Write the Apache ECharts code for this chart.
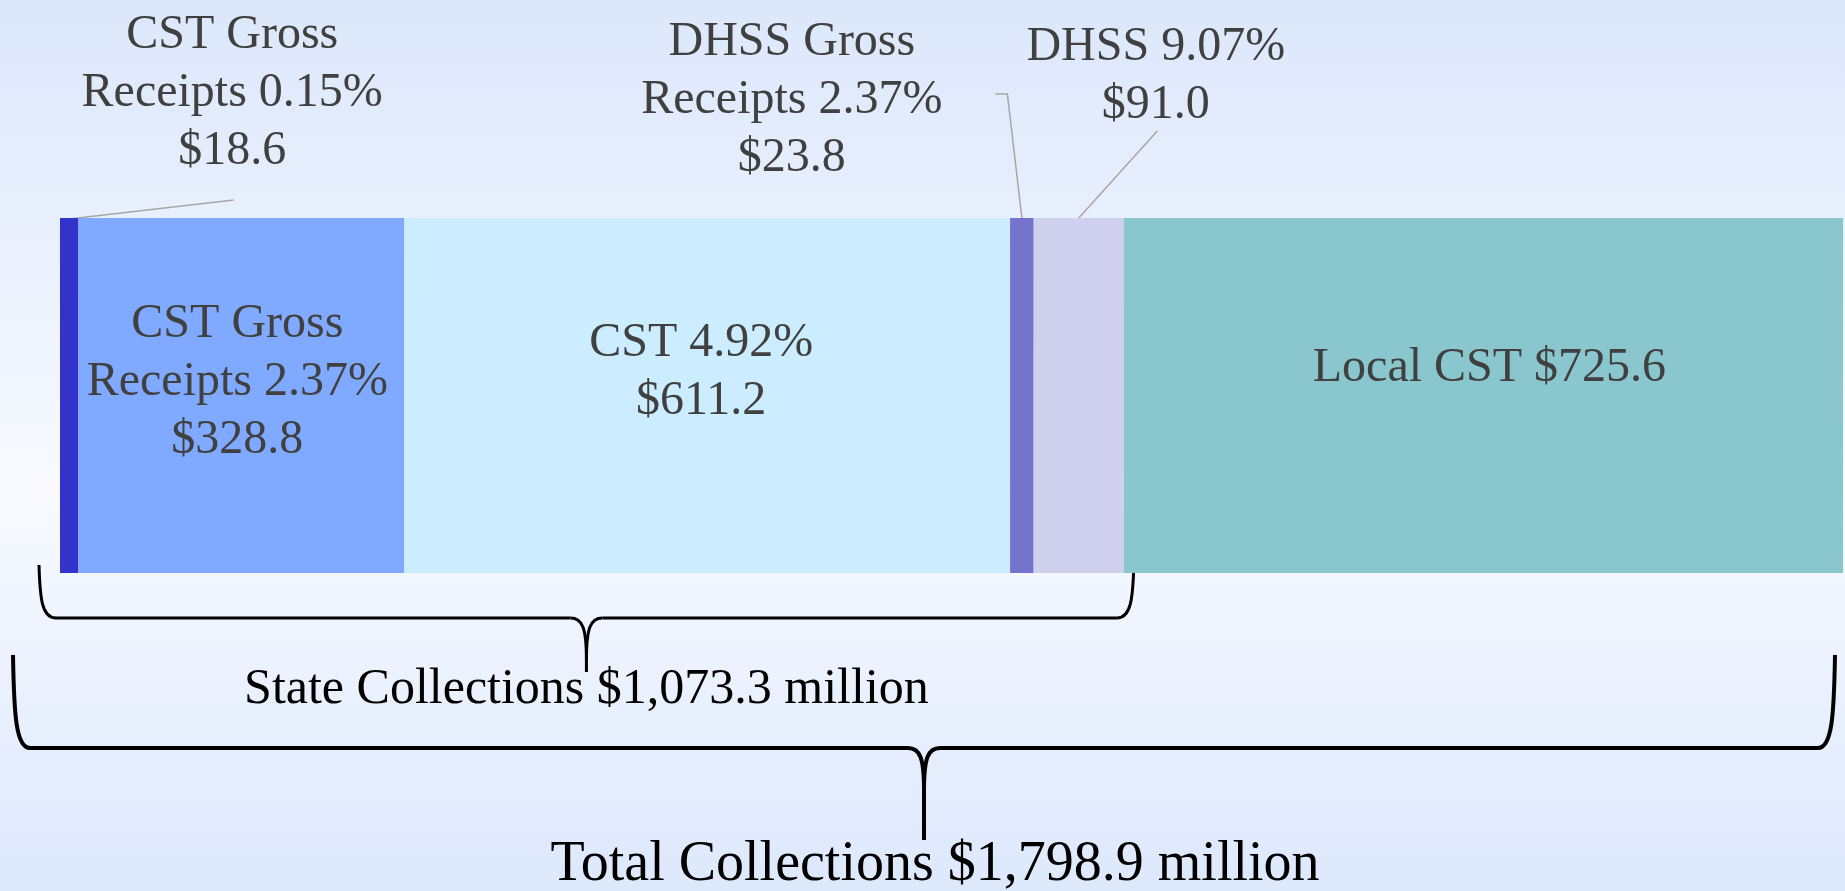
<!DOCTYPE html>
<html>
<head>
<meta charset="utf-8">
<title>CST Collections</title>
<script src="https://cdn.jsdelivr.net/npm/echarts@6/dist/echarts.min.js"></script>
<style>
html,body{margin:0;padding:0;}
#main{width:1845px;height:891px;}
</style>
</head>
<body>
<div id="main"></div>
<script>
var category = ['Collections'];
var segNames = ['CST Gross\nReceipts 0.15%', 'CST Gross\nReceipts 2.37%', 'CST 4.92%', 'DHSS Gross\nReceipts 2.37%', 'DHSS 9.07%', 'Local CST'];
var segValues = [18.6, 328.8, 611.2, 23.8, 91.0, 725.6];
var segColors = ['#3333cc', '#80aaff', '#ccecff', '#7474cf', '#cfcfee', '#8ac6ce'];
var stateCount = 5;
var stateText = 'State Collections $1,073.3 million';
var totalText = 'Total Collections $1,798.9 million';

// label placement (pixels), not data
var insideOffset = {1: [-4, -13], 2: [-6, -23], 5: [6, -27]};
var outsidePos = {0: [163, -125], 3: [-230, -118], 4: [77, -142]};
var leaderPts = {
	0: [[0, 1], [164.5, -18]],
	3: [[0, 0], [-14.5, -124], [-26.5, -124]],
	4: [[0, 0], [78.5, -87]]
};

var FONT = '"Liberation Serif", "DejaVu Serif", serif';
var gridTop = 218;

var total = 0;
for (var i = 0; i < segValues.length; i++) total += segValues[i];

function labelText(i) {
	var sep = (i == segValues.length - 1) ? ' ' : '\n';
	return segNames[i] + sep + '$' + segValues[i].toFixed(1);
}

var series = segValues.map(function (v, i) {
	var s = {
		name: segNames[i],
		type: 'bar',
		stack: 'all',
		barWidth: '100%',
		data: [v],
		itemStyle: {color: segColors[i]},
		label: {
			show: true,
			position: 'inside',
			formatter: labelText(i),
			fontFamily: FONT,
			fontSize: 48,
			lineHeight: 58,
			color: '#404040',
			textBorderWidth: 0
		}
	};
	if (outsidePos[i]) {
		s.labelLayout = function (p) {
			return {
				x: p.rect.x + p.rect.width / 2 + outsidePos[i][0],
				y: p.rect.y + outsidePos[i][1],
				align: 'center',
				verticalAlign: 'middle'
			};
		};
	} else {
		s.label.offset = insideOffset[i];
	}
	return s;
});

var chart = echarts.init(document.getElementById('main'));
chart.setOption({
	animation: false,
	backgroundColor: {
		type: 'linear', x: 0, y: 0, x2: 0, y2: 1,
		colorStops: [
			{offset: 0, color: '#dce7fb'},
			{offset: 0.55, color: '#f8faff'},
			{offset: 1, color: '#dde8fc'}
		]
	},
	grid: {left: 60, right: 2, top: gridTop, bottom: 318},
	xAxis: {type: 'value', min: 0, max: total, show: false},
	yAxis: {type: 'category', data: category, show: false},
	series: series
});

function px(v) {
	return chart.convertToPixel({xAxisIndex: 0}, v);
}

function curve(a, b, c, d, w) {
	return {
		type: 'bezierCurve', silent: true,
		shape: {x1: a[0], y1: a[1], cpx1: b[0], cpy1: b[1], cpx2: c[0], cpy2: c[1], x2: d[0], y2: d[1]},
		style: {stroke: '#000', lineWidth: w, fill: null}
	};
}
function seg(a, b, w) {
	return {
		type: 'line', silent: true,
		shape: {x1: a[0], y1: a[1], x2: b[0], y2: b[1]},
		style: {stroke: '#000', lineWidth: w}
	};
}

// curly brace opening downward, built from curves and lines
function brace(xl, xr, yTop, yLine, yTip, xm, w) {
	var yc = yTop + (yLine - yTop) * 0.65;
	return [
		curve([xl, yTop], [xl + 1, yc], [xl + 3, yLine], [xl + 17, yLine], w),
		seg([xl + 17, yLine], [xm - 16, yLine], w),
		curve([xm - 16, yLine], [xm - 4, yLine], [xm, yLine + 10], [xm, yLine + 42], w),
		seg([xm, yLine + 42], [xm, yTip], w),
		curve([xm, yLine + 42], [xm, yLine + 10], [xm + 4, yLine], [xm + 16, yLine], w),
		seg([xm + 16, yLine], [xr - 17, yLine], w),
		curve([xr - 17, yLine], [xr - 3, yLine], [xr - 1, yc], [xr, yTop], w)
	];
}

var graphics = [];

// leader lines for the labels sitting above the bar
var cum = 0;
for (var k = 0; k < segValues.length; k++) {
	var x1 = px(cum), x2 = px(cum + segValues[k]);
	cum += segValues[k];
	if (!leaderPts[k]) continue;
	var cx = (x1 + x2) / 2;
	var pts = leaderPts[k].map(function (p) { return [cx + p[0], gridTop + p[1]]; });
	graphics.push({
		type: 'polyline', silent: true,
		shape: {points: pts},
		style: {stroke: '#a6a6a6', lineWidth: 1.5, fill: null}
	});
}

// braces under the bar
var stateSum = 0;
for (var j = 0; j < stateCount; j++) stateSum += segValues[j];
var x0 = px(0), xs = px(stateSum), xt = px(total);

var sl = x0 - 21, sr = xs + 10, sm = (sl + sr) / 2;
graphics = graphics.concat(brace(sl, sr, 565, 618, 672, sm, 3));
graphics.push({
	type: 'text', silent: true, x: sm, y: 690,
	style: {text: stateText, font: '50px ' + FONT, fill: '#000', textAlign: 'center', align: 'center', textVerticalAlign: 'middle', verticalAlign: 'middle'}
});

var tl = x0 - 47, tr = xt - 8, tm = (tl + tr) / 2;
graphics = graphics.concat(brace(tl, tr, 655, 748, 840, tm, 4));
graphics.push({
	type: 'text', silent: true, x: tm + 11, y: 865,
	style: {text: totalText, font: '56px ' + FONT, fill: '#000', textAlign: 'center', align: 'center', textVerticalAlign: 'middle', verticalAlign: 'middle'}
});

chart.setOption({graphic: graphics});
</script>
</body>
</html>
